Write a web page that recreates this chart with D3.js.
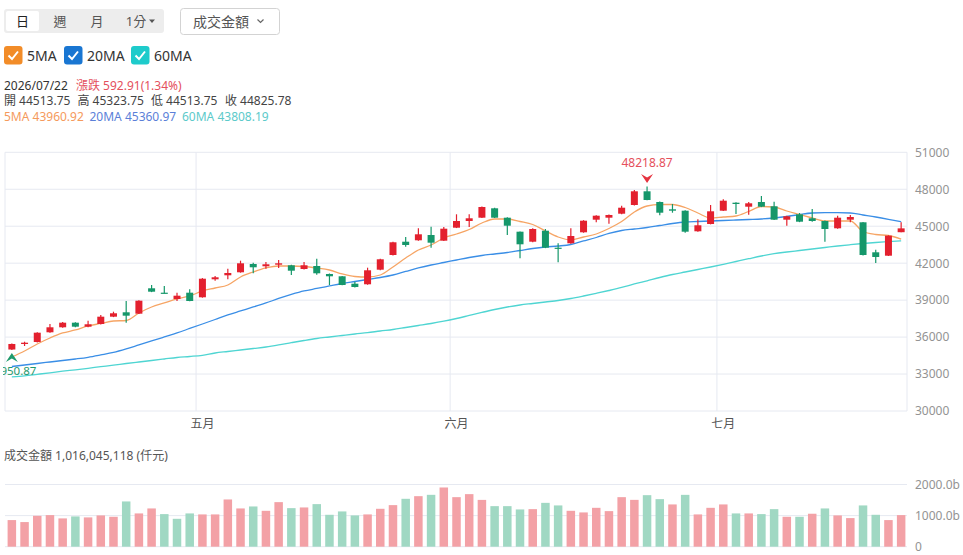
<!DOCTYPE html>
<html lang="zh-Hant">
  <head>
    <meta charset="utf-8">
    <title>K線圖</title>
    <script src="https://d3js.org/d3.v7.js"></script>
    <style>
      body { margin: 0; background: #fff; }
      text { font-family: "Noto Sans", "Noto Sans CJK TC", sans-serif; }
    </style>
  </head>

  <body>
    <script>
      // trading days shown (Apr 10 - Jul 22, 2026)
      const dates = [
        "2026/04/10", "2026/04/13", "2026/04/14", "2026/04/15", "2026/04/16", "2026/04/17",
        "2026/04/20", "2026/04/21", "2026/04/22", "2026/04/23", "2026/04/24", "2026/04/27",
        "2026/04/28", "2026/04/29", "2026/04/30",
        "2026/05/04", "2026/05/05", "2026/05/06", "2026/05/07", "2026/05/08", "2026/05/11",
        "2026/05/12", "2026/05/13", "2026/05/14", "2026/05/15", "2026/05/18", "2026/05/19",
        "2026/05/20", "2026/05/21", "2026/05/22", "2026/05/25", "2026/05/26", "2026/05/27",
        "2026/05/28", "2026/05/29",
        "2026/06/01", "2026/06/02", "2026/06/03", "2026/06/04", "2026/06/05", "2026/06/08",
        "2026/06/09", "2026/06/10", "2026/06/11", "2026/06/12", "2026/06/15", "2026/06/16",
        "2026/06/17", "2026/06/18", "2026/06/22", "2026/06/23", "2026/06/24", "2026/06/25",
        "2026/06/26", "2026/06/29", "2026/06/30",
        "2026/07/01", "2026/07/02", "2026/07/03", "2026/07/06", "2026/07/07", "2026/07/08",
        "2026/07/09", "2026/07/13", "2026/07/14", "2026/07/15", "2026/07/16", "2026/07/17",
        "2026/07/20", "2026/07/21", "2026/07/22"
      ];
      const monthNames = { "04": "四月", "05": "五月", "06": "六月", "07": "七月" };

      const opens = [
        34990, 35440, 35602, 36389, 36795, 37169, 36844, 37063, 37656, 38013,
        37899, 39961, 39604, 39092, 39604, 39230, 40691, 41016, 41260, 41933,
        41747, 41876, 41828, 41527, 41771, 41122, 40935, 40334, 40286, 41471,
        42664, 43743, 43857, 44287, 43825, 44880, 45424, 45692, 46454, 45692,
        44555, 43743, 44636, 43256, 43614, 44506, 45529, 45692, 46016, 46722,
        47834, 46966, 46373, 46260, 44588, 45180, 46260, 46909, 46584, 46966,
        46617, 45529, 45967, 45643, 45424, 44831, 45529, 45318, 42883, 42607,
        44513.75
      ];
      const highs = [
        35480, 35626, 36400, 37063, 37220, 37200, 37331, 37794, 38061, 38930,
        38990, 40229, 40148, 39604, 39880, 40790, 40959, 41552, 42201, 42039,
        42096, 42258, 41880, 42096, 42363, 41160, 40960, 40497, 41633, 42360,
        43740, 44125, 44831, 44961, 44937, 45967, 45967, 46600, 46500, 45720,
        44580, 44831, 44774, 43614, 44831, 45490, 45890, 45950, 46666, 47940,
        48218.87, 47000, 46804, 46300, 45562, 46722, 47185, 46940, 46966, 47453,
        46990, 45840, 46073, 46398, 45460, 45854, 45911, 45350, 43094, 44260,
        45323.75
      ];
      const lows = [
        34950.87, 35277, 35560, 36350, 36760, 36800, 36800, 37030, 37620, 37169,
        37880, 39650, 39540, 38930, 38900, 39200, 40578, 40691, 41230, 41178,
        41552, 41609, 41040, 41490, 41065, 40229, 40200, 40030, 40250, 41430,
        42620, 43338, 43820, 43256, 43790, 44850, 44937, 45660, 45660, 44287,
        42396, 43700, 43220, 42071, 43580, 44470, 45318, 45204, 45980, 46690,
        47100, 45886, 46097, 44474, 44550, 45150, 46230, 45992, 45935, 46550,
        45500, 45042, 45330, 45367, 43743, 44800, 45318, 42630, 42015, 42580,
        44513.75
      ];
      const closes = [
        35440, 35545, 36357, 36795, 37169, 36844, 37039, 37656, 37932, 37737,
        38954, 39685, 39555, 39360, 38930, 40740, 40854, 41203, 41990, 41665,
        41909, 41990, 41389, 41828, 41178, 40935, 40229, 40066, 41422, 42315,
        43695, 43476, 44344, 43662, 44799, 45424, 45643, 46560, 45692, 45042,
        43532, 44774, 43256, 43208, 44206, 45448, 45854, 45911, 46503, 47834,
        47128, 46097, 46260, 44555, 45075, 46211, 47071, 46804, 46860, 46584,
        45529, 45805, 45367, 45424, 44774, 45692, 45748, 42664, 42502, 44232.87,
        44825.78
      ];

      // moving averages as plotted
      const ma5 = [
        34384, 34872, 35440, 35927, 36333, 36576, 36901, 37104, 37307, 37347,
        37956, 38443, 38768, 39092, 39336, 39742, 39985, 40229, 40878, 41284,
        41609, 41771, 41771, 41730, 41609, 41446, 41122, 40919, 40878, 41040,
        41690, 42420, 43070, 43476, 44044, 44368, 44734, 45261, 45586, 45586,
        45383, 45140, 44612, 44125, 43881, 44125, 44368, 44815, 45383, 46154,
        46641, 46763, 46763, 46519, 46073, 45667, 45748, 45829, 46195, 46601,
        46560, 46235, 45951, 45667, 45424, 45424, 45424, 44571, 44328, 44247,
        43960.92
      ];
      const ma20 = [
        33613, 33735, 33857, 33979, 34100, 34222, 34360, 34547, 34750, 35034,
        35359, 35683, 36008, 36333, 36698, 37063, 37428, 37794, 38118, 38443,
        38768, 39133, 39458, 39742, 39945, 40148, 40350, 40513, 40675, 40837,
        41040, 41325, 41609, 41852, 42055, 42258, 42461, 42623, 42745, 42867,
        43029, 43191, 43313, 43394, 43516, 43800, 44084, 44409, 44653, 44774,
        44896, 45058, 45221, 45342, 45383, 45424, 45464, 45505, 45545, 45586,
        45667, 45789, 45951, 46073, 46097, 46097, 46073, 45911, 45748, 45562,
        45360.97
      ];
      const ma60 = [
        32761, 32858, 32980, 33102, 33232, 33346, 33467, 33597, 33719, 33857,
        33979, 34100, 34222, 34344, 34425, 34522, 34709, 34831, 34953, 35074,
        35196, 35359, 35545, 35724, 35886, 36008, 36130, 36251, 36357, 36495,
        36617, 36779, 36941, 37104, 37290, 37509, 37753, 37997, 38240, 38443,
        38605, 38727, 38849, 38971, 39133, 39336, 39555, 39782, 40026, 40310,
        40570, 40837, 41081, 41284, 41487, 41690, 41909, 42136, 42363, 42583,
        42769, 42907, 43029, 43151, 43273, 43394, 43500, 43597, 43678, 43743,
        43808.19
      ];

      // turnover, in 0.1 billion units ("b" on the axis)
      const volumes = [
        856, 792, 994, 1016, 910, 974, 942, 1006, 962, 1455,
        1070, 1230, 1048, 897, 1070, 1038, 1038, 1519, 1230, 1294,
        1154, 1433, 1240, 1262, 1369, 1026, 1134, 1006, 1038, 1219,
        1337, 1540, 1625, 1668, 1904, 1593, 1690, 1505, 1304, 1304,
        1198, 1208, 1410, 1327, 1154, 1102, 1250, 1144, 1593, 1506,
        1657, 1529, 1359, 1667, 1038, 1250, 1359, 1070, 1070, 1048,
        1208, 962, 962, 1060, 1230, 1006, 920, 1327, 1026, 856,
        1016
      ];

      const priceTicks = [30000, 33000, 36000, 39000, 42000, 45000, 48000, 51000];
      const volumeTicks = [0, 1000, 2000];
      const lastTurnover = "1,016,045,118";

      const RED = "#e3202e", GREEN = "#15976a";
      const VRED = "#f3a1a6", VGREEN = "#a0d8c3";
      const C5 = "#f6a565", C20 = "#3a8ee6", C60 = "#4fd5d2";
      const GRID = "#e6e9f1";

      const w = 963, h = 555;
      const plot = { left: 5, right: 907, top: 152.3, bottom: 411 };
      const vol = { top: 484.5, bottom: 546.7 };

      const svg = d3.select("body").append("svg")
        .attr("width", w).attr("height", h);

      svg.append("defs").append("clipPath").attr("id", "plotClip")
        .append("rect").attr("x", 3).attr("y", 0).attr("width", 904).attr("height", h);

      // ---------- toolbar ----------
      const bar = svg.append("g");
      bar.append("rect").attr("x", 4).attr("y", 9).attr("width", 160).attr("height", 24)
        .attr("rx", 3).attr("fill", "#ededed");
      bar.append("rect").attr("x", 6).attr("y", 11).attr("width", 33).attr("height", 20)
        .attr("rx", 2).attr("fill", "#fff");
      [["日", 22.5, "#222"], ["週", 60, "#555"], ["月", 97, "#555"], ["1分", 136, "#555"]]
        .forEach(([t, x, c]) => bar.append("text").attr("x", x).attr("y", 26)
          .attr("text-anchor", "middle").attr("font-size", 13).attr("fill", c).text(t));
      bar.append("path").attr("d", "M149,19.5 L155,19.5 L152,23 Z").attr("fill", "#555");

      bar.append("rect").attr("x", 180.5).attr("y", 8.5).attr("width", 99).attr("height", 26)
        .attr("rx", 3).attr("fill", "#fff").attr("stroke", "#d3d3d3");
      bar.append("text").attr("x", 193).attr("y", 26.5).attr("font-size", 14)
        .attr("fill", "#555").text("成交金額");
      bar.append("path").attr("d", "M257.5,19.5 L260.5,22.5 L263.5,19.5")
        .attr("fill", "none").attr("stroke", "#666").attr("stroke-width", 1.2);

      // ---------- MA legend ----------
      const legend = [["5MA", "#f28c28", 4], ["20MA", "#1976d2", 64], ["60MA", "#1ecbcb", 131]];
      legend.forEach(([t, c, x]) => {
        svg.append("rect").attr("x", x).attr("y", 46).attr("width", 18.5).attr("height", 18.5)
          .attr("rx", 3).attr("fill", c);
        svg.append("path").attr("d", `M${x + 4.5},${55.5} L${x + 8},${59} L${x + 14},${51.5}`)
          .attr("fill", "none").attr("stroke", "#fff").attr("stroke-width", 2);
        svg.append("text").attr("x", x + 23).attr("y", 60.5).attr("font-size", 14)
          .attr("fill", "#333").text(t);
      });

      // ---------- info lines ----------
      const n = closes.length;
      const last = n - 1;
      const chg = closes[last] - closes[last - 1];
      const pct = chg / closes[last - 1] * 100;
      const f2 = d3.format(".2f");
      const info = svg.append("g").attr("font-size", 12);
      const put = (x, y, t, c) => info.append("text").attr("x", x).attr("y", y).attr("fill", c).text(t);
      put(4, 89.5, dates[last], "#333");
      put(76, 89.5, `漲跌 ${f2(chg)}(${f2(pct)}%)`, "#e4505d");
      put(4, 105, `開 ${f2(opens[last])}`, "#444");
      put(77.5, 105, `高 ${f2(highs[last])}`, "#444");
      put(151, 105, `低 ${f2(lows[last])}`, "#444");
      put(225, 105, `收 ${f2(closes[last])}`, "#444");
      put(4, 120.5, `5MA ${f2(ma5[last])}`, "#f59a5c");
      put(89.5, 120.5, `20MA ${f2(ma20[last])}`, "#5b7fd8");
      put(182, 120.5, `60MA ${f2(ma60[last])}`, "#5ccaca");

      // ---------- scales ----------
      const x = d3.scaleBand().domain(d3.range(n)).range([5.5, 907.5]);
      const cx = i => x(i) + x.bandwidth() / 2;
      const y = d3.scaleLinear().domain([30000, 51000]).range([plot.bottom, plot.top]);
      const yv = d3.scaleLinear().domain([0, 2000]).range([vol.bottom, vol.top]);

      // ---------- grid ----------
      const grid = svg.append("g").attr("stroke", GRID).attr("stroke-width", 1);
      priceTicks.forEach(t => grid.append("line")
        .attr("x1", plot.left).attr("x2", plot.right).attr("y1", y(t)).attr("y2", y(t)));
      grid.append("line").attr("x1", plot.left).attr("x2", plot.left)
        .attr("y1", plot.top).attr("y2", plot.bottom);
      grid.append("line").attr("x1", plot.right).attr("x2", plot.right)
        .attr("y1", plot.top).attr("y2", plot.bottom);

      const monthStarts = d3.range(1, n).filter(i => dates[i].slice(5, 7) !== dates[i - 1].slice(5, 7));
      monthStarts.forEach(i => {
        grid.append("line").attr("x1", x(i)).attr("x2", x(i))
          .attr("y1", plot.top).attr("y2", plot.bottom);
        svg.append("text").attr("x", cx(i)).attr("y", 427.5).attr("text-anchor", "middle")
          .attr("font-size", 12).attr("fill", "#555").text(monthNames[dates[i].slice(5, 7)]);
      });

      const yAxis = d3.axisRight(y).tickValues(priceTicks).tickSize(0).tickPadding(0)
        .tickFormat(d3.format("d"));
      svg.append("g").attr("transform", `translate(915, 0)`).call(yAxis)
        .call(g => g.select(".domain").remove())
        .call(g => g.selectAll("text").attr("fill", "#939393").attr("font-size", 12)
          .attr("font-family", null));

      // ---------- moving averages ----------
      const line = d3.line().x((d, i) => cx(i)).y(d => y(d)).curve(d3.curveMonotoneX);
      [[ma60, C60], [ma20, C20], [ma5, C5]].forEach(([arr, c]) =>
        svg.append("path").datum(arr).attr("d", line).attr("fill", "none")
          .attr("stroke", c).attr("stroke-width", 1.3));

      // ---------- candles ----------
      const cw = 7;
      const candles = svg.append("g").selectAll("g").data(d3.range(n)).join("g");
      candles.append("line")
        .attr("x1", i => cx(i)).attr("x2", i => cx(i))
        .attr("y1", i => y(highs[i])).attr("y2", i => y(lows[i]))
        .attr("stroke", i => closes[i] >= opens[i] ? RED : GREEN).attr("stroke-width", 1.2);
      candles.append("rect")
        .attr("x", i => cx(i) - cw / 2).attr("width", cw)
        .attr("y", i => y(Math.max(opens[i], closes[i])))
        .attr("height", i => Math.max(1.2, Math.abs(y(opens[i]) - y(closes[i]))))
        .attr("fill", i => closes[i] >= opens[i] ? RED : GREEN);

      // ---------- high / low marks ----------
      const hi = d3.maxIndex(highs), lo = d3.minIndex(lows);
      const hx = cx(hi), hy = y(highs[hi]) - 3.5;
      svg.append("path").attr("d", `M${hx - 6},${hy - 9} L${hx},${hy - 5.5} L${hx + 6},${hy - 9} L${hx},${hy} Z`)
        .attr("fill", "#e5323f");
      svg.append("text").attr("x", hx).attr("y", hy - 16).attr("text-anchor", "middle")
        .attr("font-size", 12).attr("fill", "#e5505c").text(f2(highs[hi]));
      const lx = cx(lo), ly = y(lows[lo]) + 3;
      svg.append("path").attr("d", `M${lx - 6},${ly + 9} L${lx},${ly + 5.5} L${lx + 6},${ly + 9} L${lx},${ly} Z`)
        .attr("fill", "#1f9a6c");
      svg.append("text").attr("x", lx).attr("y", ly + 22).attr("text-anchor", "middle")
        .attr("clip-path", "url(#plotClip)")
        .attr("font-size", 11.5).attr("fill", "#1f9a6c").text(f2(lows[lo]));

      // ---------- turnover panel ----------
      svg.append("text").attr("x", 4).attr("y", 459.5).attr("font-size", 12).attr("fill", "#555")
        .text(`成交金額  ${lastTurnover} (仟元)`);
      volumeTicks.forEach(t => svg.append("line").attr("stroke", GRID)
        .attr("x1", plot.left).attr("x2", plot.right).attr("y1", yv(t)).attr("y2", yv(t)));
      const vAxis = d3.axisRight(yv).tickValues(volumeTicks).tickSize(0).tickPadding(0)
        .tickFormat(d => d === 0 ? "0" : d3.format(".1f")(d) + "b");
      svg.append("g").attr("transform", `translate(915, 0)`).call(vAxis)
        .call(g => g.select(".domain").remove())
        .call(g => g.selectAll("text").attr("fill", "#939393").attr("font-size", 12)
          .attr("font-family", null));

      const vw = 8.5;
      svg.append("g").selectAll("rect").data(volumes).join("rect")
        .attr("x", (d, i) => cx(i) - vw / 2).attr("width", vw)
        .attr("y", d => yv(d)).attr("height", d => yv(0) - yv(d))
        .attr("fill", (d, i) => i === 0 || closes[i] >= closes[i - 1] ? VRED : VGREEN);
    </script>
  </body>
</html>
